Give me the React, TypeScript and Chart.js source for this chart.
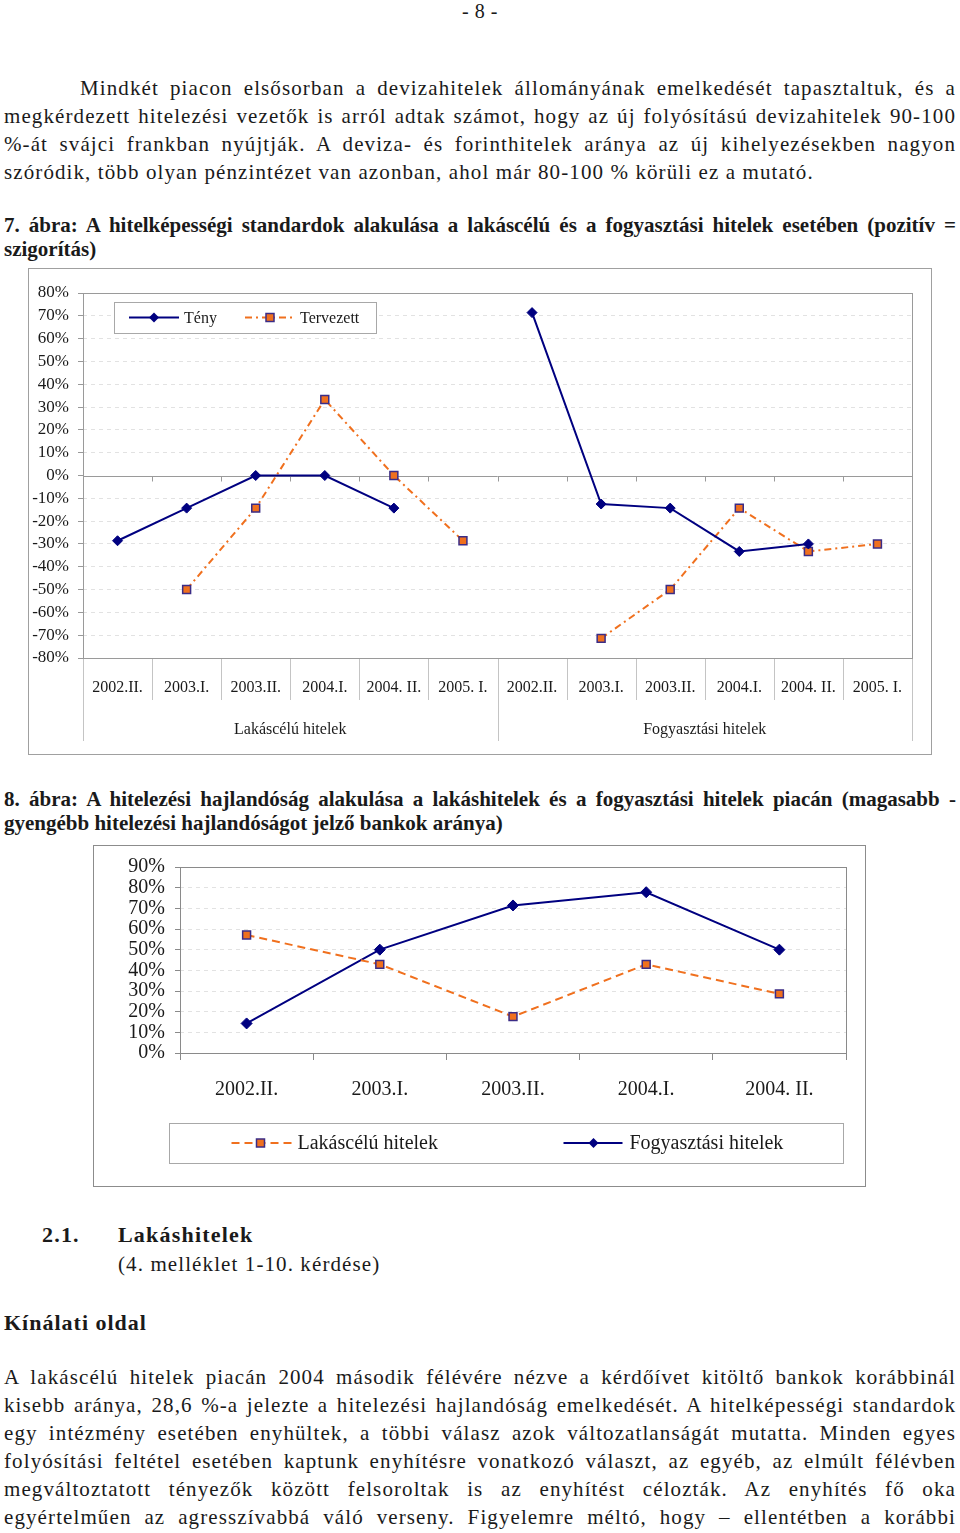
import React, { useEffect, useRef } from 'react';
import { Chart, registerables } from 'chart.js';

Chart.register(...registerables);

const FONT = 'Liberation Serif';
const CSS_FONT = '"Liberation Serif", "Times New Roman", serif';

// ---------- Chart 1 data (7. ábra) ----------
const periods1 = ['2002.II.', '2003.I.', '2003.II.', '2004.I.', '2004. II.', '2005. I.'];
const groups1 = ['Lakáscélú hitelek', 'Fogyasztási hitelek'];
const tenyValues = [-28.6, -14.3, 0, 0, -14.3, null, 71.4, -12.5, -14.3, -33.3, -30, null];
const tervezettValues = [null, -50, -14.3, 33.3, 0, -28.6, null, -71.4, -50, -14.3, -33.3, -30];
const series1Names = ['Tény', 'Tervezett'];
const y1Min = -80;
const y1Max = 80;
const y1Step = 10;

// ---------- Chart 2 data (8. ábra) ----------
const periods2 = ['2002.II.', '2003.I.', '2003.II.', '2004.I.', '2004. II.'];
const lakasceluValues = [57.1, 42.9, 17.6, 42.9, 28.6];
const fogyasztasiValues = [14.3, 50, 71.4, 77.8, 50];
const series2Names = ['Lakáscélú hitelek', 'Fogyasztási hitelek'];
const y2Min = 0;
const y2Max = 90;
const y2Step = 10;

const NAVY = '#000080';
const ORANGE = '#F0701E';
const MARKER_EDGE = '#3B2C86';

function px(v: number) {
  return Math.round(v) + 0.5;
}

function seg(ctx: CanvasRenderingContext2D, x1: number, y1: number, x2: number, y2: number) {
  ctx.beginPath();
  ctx.moveTo(x1, y1);
  ctx.lineTo(x2, y2);
  ctx.stroke();
}

function drawDiamond(ctx: CanvasRenderingContext2D, x: number, y: number, r: number) {
  ctx.save();
  ctx.fillStyle = NAVY;
  ctx.beginPath();
  ctx.moveTo(x, y - r);
  ctx.lineTo(x + r, y);
  ctx.lineTo(x, y + r);
  ctx.lineTo(x - r, y);
  ctx.closePath();
  ctx.fill();
  ctx.restore();
}

function drawSquare(ctx: CanvasRenderingContext2D, x: number, y: number, s: number) {
  ctx.save();
  ctx.fillStyle = ORANGE;
  ctx.strokeStyle = MARKER_EDGE;
  ctx.lineWidth = 1.5;
  ctx.fillRect(x - s / 2, y - s / 2, s, s);
  ctx.strokeRect(x - s / 2, y - s / 2, s, s);
  ctx.restore();
}

type LegendItem = {
  x1: number;
  x2: number;
  mx: number;
  tx: number;
  text: string;
  kind: 'diamond' | 'square';
  dash: number[];
  color: string;
};

function drawLegend(
  ctx: CanvasRenderingContext2D,
  box: { l: number; t: number; r: number; b: number },
  items: LegendItem[],
  fontSize: number
) {
  ctx.save();
  ctx.fillStyle = '#ffffff';
  ctx.fillRect(box.l, box.t, box.r - box.l, box.b - box.t);
  ctx.strokeStyle = '#a8a8a8';
  ctx.lineWidth = 1;
  ctx.strokeRect(px(box.l), px(box.t), Math.round(box.r - box.l), Math.round(box.b - box.t));
  const cy = (box.t + box.b) / 2;
  items.forEach((it) => {
    ctx.save();
    ctx.strokeStyle = it.color;
    ctx.lineWidth = 2;
    ctx.setLineDash(it.dash);
    seg(ctx, it.x1, cy, it.x2, cy);
    ctx.restore();
    if (it.kind === 'diamond') drawDiamond(ctx, it.mx, cy, 5);
    else drawSquare(ctx, it.mx, cy, 8);
    ctx.fillStyle = '#1a1a1a';
    ctx.font = `${fontSize}px ${FONT}`;
    ctx.textAlign = 'left';
    ctx.textBaseline = 'middle';
    ctx.fillText(it.text, it.tx, cy + 1);
  });
  ctx.restore();
}

function boundaries(chart: any, n: number) {
  const a = chart.chartArea;
  const x = chart.scales.x;
  const b: number[] = [];
  for (let k = 0; k <= n; k++) {
    if (k === 0) b.push(a.left);
    else if (k === n) b.push(a.right);
    else b.push((x.getPixelForValue(k - 1) + x.getPixelForValue(k)) / 2);
  }
  return b;
}

const chart1Plugin = {
  id: 'chart1Deco',
  beforeDraw(chart: any) {
    const ctx = chart.ctx as CanvasRenderingContext2D;
    ctx.save();
    ctx.fillStyle = '#fff';
    ctx.fillRect(0, 0, chart.width, chart.height);
    ctx.strokeStyle = '#a0a0a0';
    ctx.lineWidth = 1;
    ctx.strokeRect(0.5, 0.5, chart.width - 1, chart.height - 1);
    ctx.restore();
  },
  beforeDatasetsDraw(chart: any) {
    const ctx = chart.ctx as CanvasRenderingContext2D;
    const a = chart.chartArea;
    const y = chart.scales.y;
    const n = chart.data.labels.length;
    const b = boundaries(chart, n);
    ctx.save();
    ctx.lineWidth = 1;
    const y0 = y.getPixelForValue(0);
    ctx.strokeStyle = '#9a9a9a';
    seg(ctx, a.left, px(y0), a.right, px(y0));
    for (let k = 1; k < n; k++) seg(ctx, px(b[k]), px(y0), px(b[k]), px(y0) + 5);
    ctx.strokeRect(px(a.left), px(a.top), Math.round(a.right - a.left), Math.round(a.bottom - a.top));
    ctx.strokeStyle = '#c4c4c4';
    for (let k = 0; k <= n; k++) {
      const groupEdge = k % periods1.length === 0;
      seg(ctx, px(b[k]), a.bottom + 1, px(b[k]), a.bottom + (groupEdge ? 83 : 42));
    }
    ctx.fillStyle = '#1a1a1a';
    ctx.font = `16px ${FONT}`;
    ctx.textAlign = 'center';
    ctx.textBaseline = 'middle';
    groups1.forEach((g, i) => {
      const l = b[i * periods1.length];
      const r = b[(i + 1) * periods1.length];
      ctx.fillText(g, (l + r) / 2, a.bottom + 72);
    });
    ctx.restore();
  },
  afterDraw(chart: any) {
    const ctx = chart.ctx as CanvasRenderingContext2D;
    const a = chart.chartArea;
    const l = a.left + 31;
    const t = a.top + 9;
    drawLegend(
      ctx,
      { l, t, r: l + 262, b: t + 31 },
      [
        { x1: l + 15, x2: l + 65, mx: l + 40, tx: l + 70, text: series1Names[0], kind: 'diamond', dash: [], color: NAVY },
        { x1: l + 131, x2: l + 181, mx: l + 156, tx: l + 186, text: series1Names[1], kind: 'square', dash: [7, 4, 2, 4], color: ORANGE },
      ],
      16
    );
  },
};

const chart2Plugin = {
  id: 'chart2Deco',
  beforeDraw(chart: any) {
    const ctx = chart.ctx as CanvasRenderingContext2D;
    ctx.save();
    ctx.fillStyle = '#fff';
    ctx.fillRect(0, 0, chart.width, chart.height);
    ctx.strokeStyle = '#8c8c8c';
    ctx.lineWidth = 1;
    ctx.strokeRect(0.5, 0.5, chart.width - 1, chart.height - 1);
    ctx.restore();
  },
  beforeDatasetsDraw(chart: any) {
    const ctx = chart.ctx as CanvasRenderingContext2D;
    const a = chart.chartArea;
    ctx.save();
    ctx.lineWidth = 1;
    ctx.strokeStyle = '#8a8a8a';
    ctx.strokeRect(px(a.left), px(a.top), Math.round(a.right - a.left), Math.round(a.bottom - a.top));
    ctx.restore();
  },
  afterDraw(chart: any) {
    const ctx = chart.ctx as CanvasRenderingContext2D;
    const a = chart.chartArea;
    const l = a.left - 11.5;
    const t = a.bottom + 70;
    drawLegend(
      ctx,
      { l, t, r: l + 674, b: t + 40 },
      [
        { x1: l + 63, x2: l + 124, mx: l + 92, tx: l + 129, text: series2Names[0], kind: 'square', dash: [8, 5], color: ORANGE },
        { x1: l + 395, x2: l + 454, mx: l + 425, tx: l + 461, text: series2Names[1], kind: 'diamond', dash: [], color: NAVY },
      ],
      20
    );
  },
};

function Chart1() {
  const ref = useRef<HTMLCanvasElement>(null);
  useEffect(() => {
    const labels = [...periods1, ...periods1];
    const chart = new Chart(ref.current as HTMLCanvasElement, {
      type: 'line',
      data: {
        labels,
        datasets: [
          {
            label: series1Names[0],
            data: tenyValues,
            borderColor: NAVY,
            borderWidth: 2,
            pointStyle: 'rectRot',
            pointRadius: 5,
            pointBackgroundColor: NAVY,
            pointBorderColor: NAVY,
            pointBorderWidth: 1,
            spanGaps: false,
            tension: 0,
          },
          {
            label: series1Names[1],
            data: tervezettValues,
            borderColor: ORANGE,
            borderWidth: 2,
            borderDash: [7, 4, 2, 4],
            pointStyle: 'rect',
            pointRadius: 5.6,
            pointBackgroundColor: ORANGE,
            pointBorderColor: MARKER_EDGE,
            pointBorderWidth: 1.5,
            spanGaps: false,
            tension: 0,
          },
        ],
      },
      options: {
        responsive: false,
        animation: false,
        layout: { padding: { left: 0, top: 25, right: 20, bottom: 0 } },
        plugins: { legend: { display: false }, tooltip: { enabled: false } },
        scales: {
          x: {
            type: 'category',
            offset: true,
            grid: { display: false, drawTicks: false },
            border: { display: false },
            ticks: {
              autoSkip: false,
              maxRotation: 0,
              padding: 20,
              color: '#1a1a1a',
              font: { family: FONT, size: 16 },
            },
            afterFit: (s: any) => {
              s.height = 97;
            },
          },
          y: {
            min: y1Min,
            max: y1Max,
            border: { display: false, dash: [4, 4] },
            grid: {
              color: (c: any) => (c.tick && (c.tick.value === 0 || c.tick.value === y1Min || c.tick.value === y1Max) ? 'rgba(0,0,0,0)' : '#e2e2e2'),
              tickLength: 5,
              tickColor: '#999',
              tickBorderDash: [],
            },
            ticks: {
              stepSize: y1Step,
              autoSkip: false,
              padding: 9,
              color: '#1a1a1a',
              font: { family: FONT, size: 17 },
              callback: (v: any) => `${v}%`,
            },
            afterFit: (s: any) => {
              s.width = 55;
            },
          },
        },
      },
      plugins: [chart1Plugin],
    } as any);
    return () => chart.destroy();
  }, []);
  return (
    <canvas
      ref={ref}
      width={904}
      height={487}
      style={{ position: 'absolute', left: 28, top: 268, width: 904, height: 487 }}
    />
  );
}

function Chart2() {
  const ref = useRef<HTMLCanvasElement>(null);
  useEffect(() => {
    const chart = new Chart(ref.current as HTMLCanvasElement, {
      type: 'line',
      data: {
        labels: periods2,
        datasets: [
          {
            label: series2Names[0],
            data: lakasceluValues,
            borderColor: ORANGE,
            borderWidth: 2,
            borderDash: [8, 5],
            pointStyle: 'rect',
            pointRadius: 5.6,
            pointBackgroundColor: ORANGE,
            pointBorderColor: MARKER_EDGE,
            pointBorderWidth: 1.5,
            tension: 0,
          },
          {
            label: series2Names[1],
            data: fogyasztasiValues,
            borderColor: NAVY,
            borderWidth: 2,
            pointStyle: 'rectRot',
            pointRadius: 5.5,
            pointBackgroundColor: NAVY,
            pointBorderColor: NAVY,
            pointBorderWidth: 1,
            tension: 0,
          },
        ],
      },
      options: {
        responsive: false,
        animation: false,
        layout: { padding: { left: 0, top: 20, right: 20, bottom: 0 } },
        plugins: { legend: { display: false }, tooltip: { enabled: false } },
        scales: {
          x: {
            type: 'category',
            offset: true,
            grid: { display: true, drawOnChartArea: false, offset: true, tickLength: 7, color: '#8a8a8a' },
            border: { display: false },
            ticks: {
              autoSkip: false,
              maxRotation: 0,
              padding: 18,
              color: '#1a1a1a',
              font: { family: FONT, size: 20 },
            },
            afterFit: (s: any) => {
              s.height = 134;
            },
          },
          y: {
            min: y2Min,
            max: y2Max,
            border: { display: false, dash: [4, 4] },
            grid: {
              color: (c: any) => (c.tick && (c.tick.value === y2Min || c.tick.value === y2Max) ? 'rgba(0,0,0,0)' : '#e2e2e2'),
              tickLength: 5,
              tickColor: '#8a8a8a',
              tickBorderDash: [],
            },
            ticks: {
              stepSize: y2Step,
              autoSkip: false,
              padding: 10,
              color: '#1a1a1a',
              font: { family: FONT, size: 20 },
              callback: (v: any) => `${v}%`,
            },
            afterFit: (s: any) => {
              s.width = 87;
            },
          },
        },
      },
      plugins: [chart2Plugin],
    } as any);
    return () => chart.destroy();
  }, []);
  return (
    <canvas
      ref={ref}
      width={773}
      height={342}
      style={{ position: 'absolute', left: 93, top: 845, width: 773, height: 342 }}
    />
  );
}

type TProps = {
  x: number;
  base: number;
  w?: number;
  size?: number;
  lh?: number;
  ls?: number;
  bold?: boolean;
  justify?: boolean;
  center?: boolean;
  children: React.ReactNode;
};

function T({ x, base, w, size = 21, lh = 28, ls = 1.1, bold = false, justify = false, center = false, children }: TProps) {
  const top = base - ((lh - 1.107 * size) / 2 + 0.891 * size);
  return (
    <div
      style={{
        position: 'absolute',
        left: x,
        top,
        width: w,
        fontSize: size,
        lineHeight: `${lh}px`,
        letterSpacing: `${ls}px`,
        fontWeight: bold ? 700 : 400,
        textAlign: justify ? 'justify' : center ? 'center' : 'left',
        textAlignLast: justify ? 'justify' : undefined,
        whiteSpace: w ? 'normal' : 'nowrap',
      } as React.CSSProperties}
    >
      {children}
    </div>
  );
}

const para1 = [
  'Mindkét piacon elsősorban a devizahitelek állományának emelkedését tapasztaltuk, és a',
  'megkérdezett hitelezési vezetők is arról adtak számot, hogy az új folyósítású devizahitelek 90-100',
  '%-át svájci frankban nyújtják. A deviza- és forinthitelek aránya az új kihelyezésekben nagyon',
  'szóródik, több olyan pénzintézet van azonban, ahol már 80-100 % körüli ez a mutató.',
];

const para2 = [
  'A lakáscélú hitelek piacán 2004 második félévére nézve a kérdőívet kitöltő bankok korábbinál',
  'kisebb aránya, 28,6 %-a jelezte a hitelezési hajlandóság emelkedését. A hitelképességi standardok',
  'egy intézmény esetében enyhültek, a többi válasz azok változatlanságát mutatta. Minden egyes',
  'folyósítási feltétel esetében kaptunk enyhítésre vonatkozó választ, az egyéb, az elmúlt félévben',
  'megváltoztatott tényezők között felsoroltak is az enyhítést célozták. Az enyhítés fő oka',
  'egyértelműen az agresszívabbá váló verseny. Figyelemre méltó, hogy – ellentétben a korábbi',
];

export default function App() {
  return (
    <div
      style={{
        position: 'absolute',
        left: 0,
        top: 0,
        width: 960,
        height: 1533,
        overflow: 'hidden',
        background: '#fff',
        fontFamily: CSS_FONT,
        color: '#1a1a1a',
      }}
    >
      <T x={0} w={960} base={18} size={20} ls={0.5} center>
        - 8 -
      </T>

      {para1.map((line, i) => (
        <T key={`p1-${i}`} x={i === 0 ? 80 : 4} w={i === 0 ? 876 : 952} base={95 + i * 28} justify={i < para1.length - 1}>
          {line}
        </T>
      ))}

      <T x={4} w={952} base={232} size={21} lh={24} ls={0} bold justify>
        7. ábra: A hitelképességi standardok alakulása a lakáscélú és a fogyasztási hitelek esetében (pozitív =
      </T>
      <T x={4} base={256} size={21} lh={24} ls={0} bold>
        szigorítás)
      </T>

      <Chart1 />

      <T x={4} w={952} base={806} size={21} lh={24} ls={0} bold justify>
        8. ábra: A hitelezési hajlandóság alakulása a lakáshitelek és a fogyasztási hitelek piacán (magasabb -
      </T>
      <T x={4} base={830} size={21} lh={24} ls={0} bold>
        gyengébb hitelezési hajlandóságot jelző bankok aránya)
      </T>

      <Chart2 />

      <T x={42} base={1242} size={22} ls={1.2} bold>
        2.1.
      </T>
      <T x={118} base={1242} size={22} ls={1.2} bold>
        Lakáshitelek
      </T>
      <T x={118} base={1271}>
        (4. melléklet 1-10. kérdése)
      </T>

      <T x={4} base={1330} size={22} ls={1} bold>
        Kínálati oldal
      </T>

      {para2.map((line, i) => (
        <T key={`p2-${i}`} x={4} w={952} base={1384 + i * 28} justify>
          {line}
        </T>
      ))}
    </div>
  );
}
